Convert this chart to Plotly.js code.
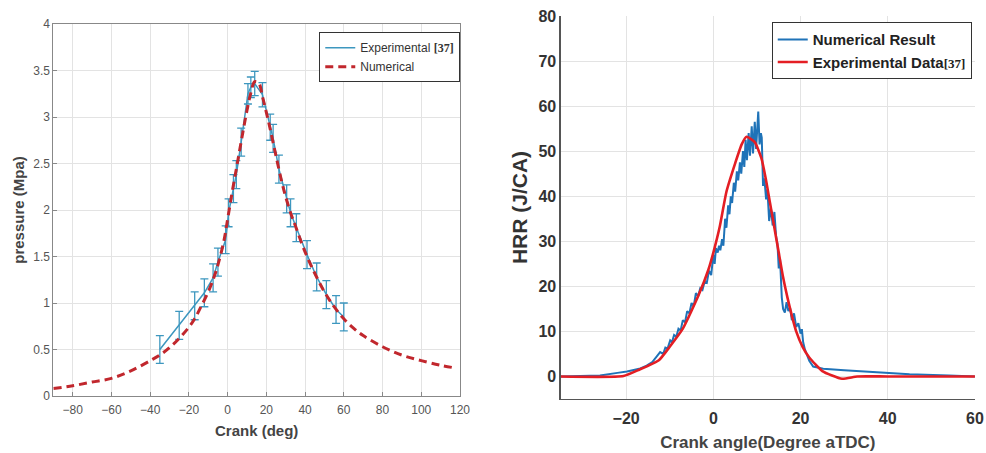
<!DOCTYPE html>
<html>
<head>
<meta charset="utf-8">
<script src="https://cdn.plot.ly/plotly-3.0.1.min.js"></script>
<style>html,body{margin:0;padding:0;background:#fff;}#chart{width:986px;height:453px;}</style>
</head>
<body>
<div id="chart"></div>
<script>
// ---- Left panel: pressure vs crank angle ----
const expCrank = [-35,-25,-17,-12,-7.5,-5,-1,0.5,3,4.5,7,10.5,12,14,18,22,23.5,26.5,30.5,32.5,35.5,41,46,51,56,60];
const expPressure = [0.50,0.76,0.97,1.11,1.27,1.44,1.68,1.97,2.23,2.38,2.73,3.25,3.32,3.36,3.24,2.89,2.77,2.44,2.12,1.97,1.81,1.52,1.28,1.09,0.93,0.85];
const expErr = [0.15,0.15,0.15,0.15,0.15,0.15,0.15,0.15,0.15,0.15,0.15,0.11,0.11,0.13,0.13,0.14,0.15,0.15,0.15,0.15,0.15,0.15,0.15,0.15,0.15,0.15];

const numCrank = [-90,-80,-70,-60,-50,-40,-35,-30,-25,-20,-17,-14,-10,-7,-5,-2,0,2,5,8,10,12,14,16,18,20,22,25,28,30,33,35,40,45,50,55,60,65,70,80,90,100,110,118];
const numPressure = [0.08,0.11,0.15,0.19,0.27,0.38,0.44,0.52,0.62,0.74,0.83,0.95,1.12,1.28,1.41,1.66,1.90,2.15,2.50,2.85,3.07,3.26,3.38,3.37,3.22,3.05,2.87,2.58,2.30,2.14,1.94,1.83,1.55,1.32,1.12,0.96,0.83,0.73,0.65,0.53,0.44,0.38,0.33,0.30];

// ---- Right panel: heat release rate ----
const hrrNumCrank = [-35,-30,-26,-22,-19.8,-17,-15.3,-14,-13,-12.2,-11.5,-11,-10.5,-9.9,-9.5,-9,-8.5,-8,-7.5,-7,-6.5,-6,-5.5,-5,-4.5,-4,-3.5,-3,-2.5,-2,-1.5,-1,-0.5,0,0.3,0.6,1,1.3,1.6,2,2.3,2.7,3,3.4,3.7,4,4.3,4.7,5,5.4,5.7,6.1,6.4,6.8,7.1,7.4,7.7,8.1,8.4,8.8,9.1,9.5,9.8,10.3,10.6,10.9,11.1,11.4,11.7,12.1,12.4,12.8,13.2,13.6,14.0,14.4,14.7,15.0,15.3,15.7,16.0,16.4,16.8,17.2,17.6,18.0,18.5,19.0,19.5,20.0,20.3,20.6,21,22,22.9,25.2,30,35,40,45,54,60];
const hrrNum = [0,0.1,0.2,0.8,1.1,1.7,2.4,3.2,4.4,5.4,5.0,6.4,6.2,8.0,7.6,9.2,8.8,10.6,10.2,12.5,12.0,14.5,14.0,16.3,15.6,18.5,17.8,19.6,19.2,21.0,20.8,23.5,22.5,27.0,25.0,28.5,27.5,29.0,28.0,30.5,29.0,35.0,33.0,38.0,36.0,40.0,38.5,43.0,41.0,45.5,43.5,47.5,45.0,50.0,46.5,52.5,48.0,54.0,49.0,55.5,49.5,56.5,50.5,58.8,51.5,54.0,53.0,42.3,44.0,39.3,41.5,34.5,37.5,33.5,36.5,31.0,29.5,24.0,26.0,17.5,15.0,14.2,16.5,14.5,15.2,12.5,14.0,11.0,11.8,9.5,10.5,7.6,6.0,3.5,2.2,1.7,1.4,1.1,0.8,0.5,0.2,0];

const hrrExpCrank = [-35,-20.6,-17,-12.5,-10,-7,-3.4,-1.1,0,1.5,3,5,6.5,7.6,9.5,11,12,13,14,15,16,17,18,19,20.5,22,25,29.5,33,40,60];
const hrrExp = [0,0.1,1.5,3.6,6.6,10.6,18,23.8,27.5,33.4,41,47.3,51.5,53.2,52,48.5,44,38.5,33,27.5,22,17.5,13.5,10,6.5,4.2,1.2,-0.5,0,0,0];

const F = 'Liberation Sans, Arial, sans-serif';
const TNR = 'Liberation Serif, Times New Roman, serif';

const traces = [
  {
    x: expCrank, y: expPressure, type: 'scatter', mode: 'lines',
    name: 'Experimental <span style="font-family:' + TNR + ';font-weight:bold">[37]</span>',
    line: {color: '#3d97bf', width: 1.5},
    error_y: {type: 'data', array: expErr, visible: true, color: '#3d97bf', thickness: 1.3, width: 4},
    xaxis: 'x', yaxis: 'y', legend: 'legend'
  },
  {
    x: numCrank, y: numPressure, type: 'scatter', mode: 'lines',
    name: 'Numerical',
    line: {color: '#c1272d', width: 3, dash: '8px,5px', shape: 'spline'},
    xaxis: 'x', yaxis: 'y', legend: 'legend'
  },
  {
    x: hrrNumCrank, y: hrrNum, type: 'scatter', mode: 'lines',
    name: 'Numerical Result',
    line: {color: '#1f73b8', width: 2},
    xaxis: 'x2', yaxis: 'y2', legend: 'legend2'
  },
  {
    x: hrrExpCrank, y: hrrExp, type: 'scatter', mode: 'lines',
    name: 'Experimental Data<span style="font-family:' + TNR + ';font-size:13px">[37]</span>',
    line: {color: '#e41e24', width: 2.6, shape: 'spline', smoothing: 0.5},
    xaxis: 'x2', yaxis: 'y2', legend: 'legend2'
  }
];

const layout = {
  width: 986, height: 453,
  margin: {l: 0, r: 0, t: 0, b: 0},
  paper_bgcolor: '#fff', plot_bgcolor: '#fff',
  font: {family: F, color: '#444'},
  xaxis: {
    domain: [0.0541, 0.4665], range: [-90, 120], tickvals: [-80,-60,-40,-20,0,20,40,60,80,100,120],
    showgrid: true, gridcolor: '#e3e3e3', zeroline: false,
    showline: true, linecolor: '#888', linewidth: 1, mirror: true,
    ticks: 'inside', ticklen: 4, tickcolor: '#888', ticklabelstandoff: 3,
    tickfont: {family: F, size: 12, color: '#555'},
    title: {text: '<b>Crank (deg)</b>', font: {family: F, size: 15, color: '#444'}, standoff: 9},
    anchor: 'y', fixedrange: true
  },
  yaxis: {
    domain: [0.1258, 0.947], range: [0, 4], tickvals: [0,0.5,1,1.5,2,2.5,3,3.5,4],
    showgrid: true, gridcolor: '#e3e3e3', zeroline: false,
    showline: true, linecolor: '#888', linewidth: 1, mirror: true,
    ticks: 'inside', ticklen: 4, tickcolor: '#888',
    tickfont: {family: F, size: 12, color: '#555'},
    title: {text: '<b>pressure (Mpa)</b>', font: {family: F, size: 15, color: '#444'}, standoff: 4},
    anchor: 'x', fixedrange: true
  },
  xaxis2: {
    domain: [0.5687, 0.9888], range: [-35, 60], tickvals: [-20,0,20,40,60],
    showgrid: true, gridcolor: '#e3e3e3', zeroline: false,
    showline: true, linecolor: '#555', linewidth: 1.3,
    ticks: '', ticklabelstandoff: 4, tickfont: {family: F, size: 16, color: '#333', weight: 'bold'},
    title: {text: '<b>Crank angle(Degree aTDC)</b>', font: {family: F, size: 17, color: '#444'}, standoff: 10},
    anchor: 'y2', fixedrange: true
  },
  yaxis2: {
    domain: [0.1192, 0.9647], range: [-5, 80], tickvals: [0,10,20,30,40,50,60,70,80],
    showgrid: true, gridcolor: '#e3e3e3', zeroline: false,
    showline: true, linecolor: '#555', linewidth: 1.3,
    ticks: '', tickfont: {family: F, size: 16, color: '#333', weight: 'bold'},
    title: {text: '<b>HRR (J/CA)</b>', font: {family: F, size: 21, color: '#333'}, standoff: 5},
    anchor: 'x2', fixedrange: true
  },
  legend: {
    x: 0.3238, y: 0.929, xanchor: 'left', yanchor: 'top',
    bgcolor: '#fff', bordercolor: '#333', borderwidth: 1,
    font: {family: F, size: 12, color: '#333'},
    itemwidth: 30, tracegroupgap: 0
  },
  legend2: {
    x: 0.7827, y: 0.951, xanchor: 'left', yanchor: 'top',
    bgcolor: '#fff', bordercolor: '#333', borderwidth: 1,
    font: {family: F, size: 15, color: '#222', weight: 'bold'},
    itemwidth: 30, tracegroupgap: 0
  },
  showlegend: true
};

Plotly.newPlot('chart', traces, layout, {displayModeBar: false, staticPlot: true});
</script>
</body>
</html>
